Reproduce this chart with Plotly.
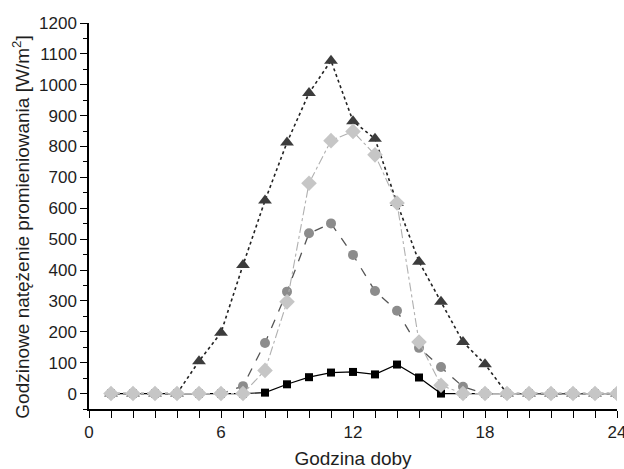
import plotly.graph_objects as go

hours = list(range(1, 25))

# hourly irradiance series [W/m2]
triangles = [0, 0, 0, 0, 105, 197, 416, 625, 813, 973, 1078, 882, 825, 617, 427, 297, 167, 95, 0, 0, 0, 0, 0, 0]
circles = [0, 0, 0, 0, 0, 0, 24, 164, 330, 519, 551, 449, 332, 268, 148, 86, 22, 0, 0, 0, 0, 0, 0, 0]
diamonds = [0, 0, 0, 0, 0, 0, 0, 75, 297, 681, 819, 849, 773, 617, 167, 27, 0, 0, 0, 0, 0, 0, 0, 0]
squares = [0, 0, 0, 0, 0, 0, 0, 3, 30, 53, 68, 70, 62, 94, 52, 0, 0, 0, 0, 0, 0, 0, 0, 0]

x_ticks = [0, 6, 12, 18, 24]
y_ticks = list(range(0, 1201, 100))

font = "Liberation Sans, Arial, sans-serif"

fig = go.Figure()

fig.add_trace(go.Scatter(
    x=hours, y=squares, mode="lines+markers",
    line=dict(color="black", width=1.2),
    marker=dict(symbol="square", size=8, color="black"),
))
fig.add_trace(go.Scatter(
    x=hours, y=circles, mode="lines+markers",
    line=dict(color="#555555", width=1.3, dash="dash"),
    marker=dict(symbol="circle", size=10, color="#8c8c8c"),
))
fig.add_trace(go.Scatter(
    x=hours, y=triangles, mode="lines+markers",
    line=dict(color="#222222", width=1.6, dash="dot"),
    marker=dict(symbol="triangle-up", size=12, color="#3c3c3c"),
))
fig.add_trace(go.Scatter(
    x=hours, y=diamonds, mode="lines+markers",
    line=dict(color="#b0b0b0", width=1.1, dash="dashdot"),
    marker=dict(symbol="diamond", size=12, color="#c6c6c6"),
))

fig.update_layout(
    width=624, height=469,
    margin=dict(l=89, r=7, t=23, b=60),
    paper_bgcolor="white", plot_bgcolor="white",
    showlegend=False,
    font=dict(family=font, size=17, color="#1e1e1e"),
)

# vertical axis title, placed left of the tick labels
fig.add_annotation(
    text="Godzinowe natężenie promieniowania [W/m<sup>2</sup>]",
    xref="paper", yref="paper", x=-0.129, y=0.472,
    xanchor="center", yanchor="middle", textangle=-90,
    showarrow=False, font=dict(size=19),
)

fig.update_xaxes(
    range=[0, 24], tickmode="array", tickvals=x_ticks,
    ticktext=[str(v) for v in x_ticks],
    ticklabeloverflow="allow",
    showgrid=False, zeroline=False,
    showline=True, linecolor="black", linewidth=1.5,
    ticks="outside", ticklen=7, tickwidth=1.3, tickcolor="black",
    minor=dict(dtick=1, ticks="outside", ticklen=7, tickwidth=1.2, tickcolor="black"),
    title=dict(text="Godzina doby", font=dict(size=19), standoff=16),
    automargin=False,
)
fig.update_yaxes(
    range=[-50, 1200], tickmode="array", tickvals=y_ticks,
    showgrid=False, zeroline=False,
    showline=True, linecolor="black", linewidth=1.5,
    ticks="outside", ticklen=7, tickwidth=1.3, tickcolor="black",
    minor=dict(tickvals=[v + 50 for v in y_ticks[:-1]] + [-50], ticks="outside",
               ticklen=4, tickwidth=1, tickcolor="black"),
    automargin=False,
)

fig.write_html("out.html")
